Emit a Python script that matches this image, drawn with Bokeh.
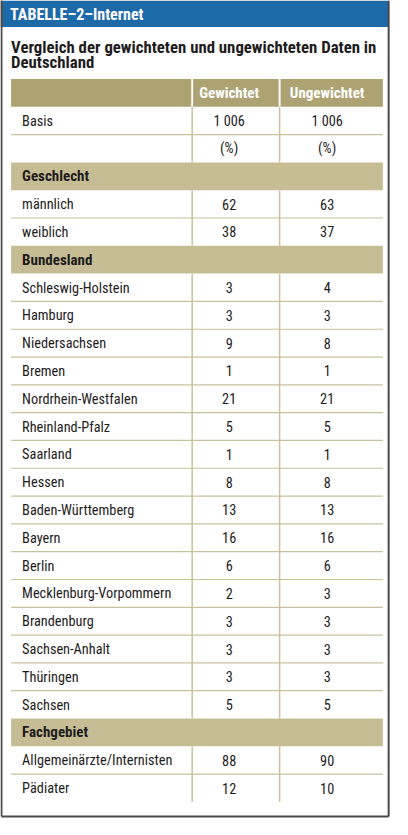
from bokeh.plotting import figure
from bokeh.models import Range1d, ColumnDataSource
from bokeh.core.properties import value
from bokeh.embed import file_html
from bokeh.resources import INLINE

# ---------------- data ----------------
title = "TABELLE–2–Internet"
subtitle_lines = ["Vergleich der gewichteten und ungewichteten Daten in", "Deutschland"]
col_headers = ["Gewichtet", "Ungewichtet"]

basis_label = "Basis"
basis_values = ["1 006", "1 006"]
unit_label = "(%)"

section_names = ["Geschlecht", "Bundesland", "Fachgebiet"]

geschlecht = ["männlich", "weiblich"]
geschlecht_gew = [62, 38]
geschlecht_ungew = [63, 37]

bundesland = ["Schleswig-Holstein", "Hamburg", "Niedersachsen", "Bremen",
              "Nordrhein-Westfalen", "Rheinland-Pfalz", "Saarland", "Hessen",
              "Baden-Württemberg", "Bayern", "Berlin", "Mecklenburg-Vorpommern",
              "Brandenburg", "Sachsen-Anhalt", "Thüringen", "Sachsen"]
bundesland_gew = [3, 3, 9, 1, 21, 5, 1, 8, 13, 16, 6, 2, 3, 3, 3, 5]
bundesland_ungew = [4, 3, 8, 1, 21, 5, 1, 8, 13, 16, 6, 3, 3, 3, 3, 5]

fachgebiet = ["Allgemeinärzte/Internisten", "Pädiater"]
fachgebiet_gew = [88, 12]
fachgebiet_ungew = [90, 10]

# ---------------- styles ----------------
FONT = value("Roboto Condensed")
BLUE = "#1d6aa8"
HEAD_TAN = "#ada372"
SEC_TAN = "#c6bd94"
LINE_TAN = "#c9c19c"
TXT = "#1e1c1c"
FRAME = "#4a4a4a"

W, H = 408, 835
X0, X1 = 11, 398
SEP = [199.5, 290.5]
COL_C = [238, 340]
LABEL_X = 22.5
TOP = 80
ROW_H = 28.35

# ---------------- build rows ----------------
rows = [("data", basis_label, basis_values[0], basis_values[1]),
        ("data", "", unit_label, unit_label)]
groups = [(geschlecht, geschlecht_gew, geschlecht_ungew),
          (bundesland, bundesland_gew, bundesland_ungew),
          (fachgebiet, fachgebiet_gew, fachgebiet_ungew)]
for name, (labels, g, u) in zip(section_names, groups):
    rows.append(("section", name, "", ""))
    for lab, a, b in zip(labels, g, u):
        rows.append(("data", lab, str(a), str(b)))

p = figure(width=392, height=819, x_range=Range1d(0, W), y_range=Range1d(H, 0),
           output_backend="svg", toolbar_location=None, min_border=0,
           x_axis_location=None, y_axis_location=None,
           outline_line_color=None, background_fill_color="white",
           border_fill_color="white")
p.grid.visible = False

# blue header bar
p.quad(left=[1], right=[404], top=[0], bottom=[27], fill_color=BLUE, line_color=None)
p.text(x=[10], y=[14], text=[title], text_font=FONT, text_font_size=value("16px"),
       text_font_style="bold", text_color="white", text_baseline="middle")

# subtitle
p.text(x=[11, 11], y=[47, 63], text=subtitle_lines, text_font=FONT,
       text_font_size=value("16.8px"), text_font_style="bold", text_color=TXT,
       text_baseline="middle")

# table header row
hy0, hy1 = TOP, TOP + ROW_H
p.quad(left=[X0, SEP[0] + 1, SEP[1] + 1], right=[SEP[0] - 1, SEP[1] - 1, X1],
       top=[hy0] * 3, bottom=[hy1] * 3, fill_color=HEAD_TAN, line_color=None)
p.text(x=COL_C, y=[(hy0 + hy1) / 2] * 2, text=col_headers, text_font=FONT,
       text_font_size=value("15px"), text_font_style="bold", text_color="white",
       text_baseline="middle", text_align="center")

# body
sec_src = dict(top=[], bottom=[], y=[], text=[])
dat = dict(y=[], label=[], a=[], b=[])
hseg = dict(y=[])
vseg = dict(x=[], y0=[], y1=[])
for i, (kind, lab, a, b) in enumerate(rows):
    y0 = TOP + ROW_H * (i + 1)
    y1 = y0 + ROW_H
    ym = (y0 + y1) / 2
    if kind == "section":
        sec_src["top"].append(y0); sec_src["bottom"].append(y1)
        sec_src["y"].append(ym); sec_src["text"].append(lab)
    else:
        dat["y"].append(ym); dat["label"].append(lab)
        dat["a"].append(a); dat["b"].append(b)
        for sx in SEP:
            vseg["x"].append(sx); vseg["y0"].append(y0); vseg["y1"].append(y1)
        if i + 1 < len(rows) and rows[i + 1][0] == "data":
            hseg["y"].append(y1)

p.quad(left=X0, right=X1, top="top", bottom="bottom", source=ColumnDataSource(sec_src),
       fill_color=SEC_TAN, line_color=None)
p.text(x=LABEL_X, y="y", text="text", source=ColumnDataSource(sec_src), text_font=FONT,
       text_font_size=value("15px"), text_font_style="bold", text_color=TXT,
       text_baseline="middle")

p.segment(x0=X0, x1=X1, y0="y", y1="y", source=ColumnDataSource(hseg),
          line_color=LINE_TAN, line_width=1.2)
p.segment(x0="x", x1="x", y0="y0", y1="y1", source=ColumnDataSource(vseg),
          line_color=LINE_TAN, line_width=1.5)

dsrc = ColumnDataSource(dat)
p.text(x=LABEL_X, y="y", text="label", source=dsrc, text_font=FONT,
       text_font_size=value("14.3px"), text_color=TXT, text_baseline="middle")
p.text(x=COL_C[0], y="y", text="a", source=dsrc, text_font=FONT,
       text_font_size=value("14.3px"), text_color=TXT, text_baseline="middle",
       text_align="center")
p.text(x=COL_C[1], y="y", text="b", source=dsrc, text_font=FONT,
       text_font_size=value("14.3px"), text_color=TXT, text_baseline="middle",
       text_align="center")

# outer frame
p.segment(x0=[1, 404, 1, 1], x1=[1, 404, 404, 1], y0=[0, 0, 832, 0], y1=[832, 832, 832, 27],
          line_color=FRAME, line_width=2)

open("out.html", "w").write(file_html(p, INLINE))
